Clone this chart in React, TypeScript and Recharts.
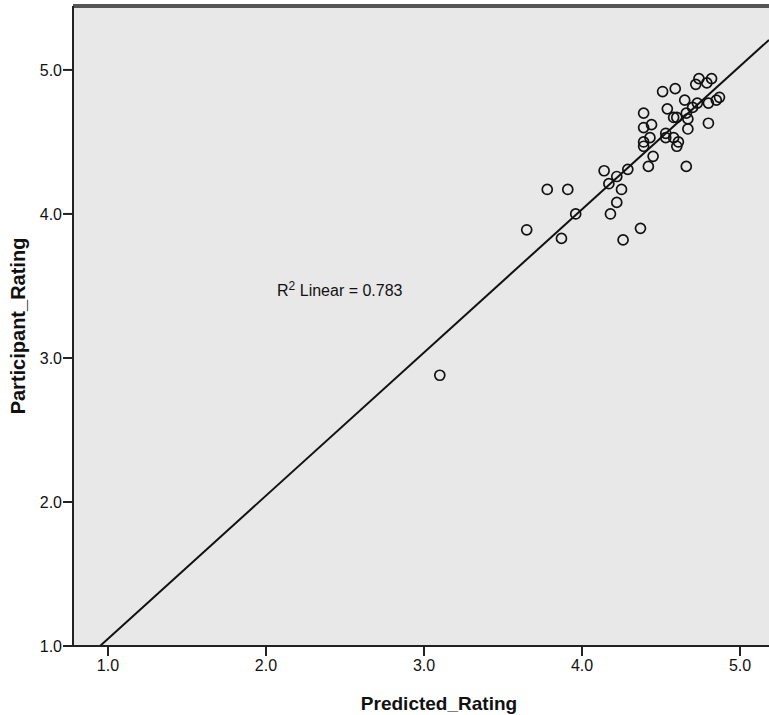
import React from "react";
import {
  ScatterChart,
  Scatter,
  XAxis,
  YAxis,
  CartesianGrid,
  ReferenceLine,
  ReferenceDot,
} from "recharts";

const predictedRating = [
  3.1, 3.65, 3.78, 3.87, 3.91, 3.96, 4.14, 4.17, 4.18, 4.22, 4.22, 4.25, 4.26,
  4.29, 4.37, 4.42, 4.45, 4.66, 4.39, 4.39, 4.44, 4.43, 4.39, 4.39, 4.51, 4.59,
  4.74, 4.82, 4.72, 4.79, 4.65, 4.73, 4.7, 4.8, 4.85, 4.87, 4.54, 4.58, 4.6,
  4.66, 4.67, 4.67, 4.8, 4.53, 4.58, 4.53, 4.61, 4.6,
];
const participantRating = [
  2.88, 3.89, 4.17, 3.83, 4.17, 4.0, 4.3, 4.21, 4.0, 4.26, 4.08, 4.17, 3.82,
  4.31, 3.9, 4.33, 4.4, 4.33, 4.7, 4.6, 4.62, 4.53, 4.5, 4.47, 4.85, 4.87, 4.94,
  4.94, 4.9, 4.91, 4.79, 4.77, 4.74, 4.77, 4.79, 4.81, 4.73, 4.67, 4.67, 4.7,
  4.66, 4.59, 4.63, 4.56, 4.53, 4.53, 4.5, 4.47,
];
const xTicks = [1, 2, 3, 4, 5];
const yTicks = [1, 2, 3, 4, 5];
const xDomain: [number, number] = [0.7785, 5.1835];
const yDomain: [number, number] = [1, 5.444];
const fitSlope = 0.994;
const fitIntercept = 0.056;
const rSquared = "0.783";
const rLabelPos = { x: 2.07, y: 3.43 };

const points = predictedRating.map((x, i) => ({ x, y: participantRating[i] }));
const fitStartX = (yDomain[0] - fitIntercept) / fitSlope;
const fitEndX = xDomain[1];
const fitSegment = [
  { x: fitStartX, y: fitSlope * fitStartX + fitIntercept },
  { x: fitEndX, y: fitSlope * fitEndX + fitIntercept },
];

const FONT = "'Liberation Sans', Arial, sans-serif";

const Ring = (props: any) => {
  const { cx, cy } = props;
  if (cx == null || cy == null) return null;
  return <circle cx={cx} cy={cy} r={5} fill="none" stroke="#111" strokeWidth={1.7} />;
};

const RLabel = (props: any) => {
  const { cx, cy } = props;
  return (
    <text x={cx} y={cy} fontFamily={FONT} fontSize={16} fill="#111">
      R
      <tspan fontSize={12} dy={-6}>2</tspan>
      <tspan dy={6}> Linear = {rSquared}</tspan>
    </text>
  );
};

const YTitle = (props: any) => {
  const vb = props.viewBox || {};
  const cy = vb.y + vb.height / 2;
  return (
    <text
      x={18}
      y={cy}
      transform={`rotate(-90, 18, ${cy})`}
      textAnchor="middle"
      dominantBaseline="central"
      fontFamily={FONT}
      fontWeight="bold"
      fontSize={20}
      fill="#111"
    >
      Participant_Rating
    </text>
  );
};

const XTitle = (props: any) => {
  const vb = props.viewBox || {};
  const cx = vb.x + vb.width / 2 + 18;
  return (
    <text
      x={cx}
      y={710}
      textAnchor="middle"
      fontFamily={FONT}
      fontWeight="bold"
      fontSize={19}
      fill="#111"
    >
      Predicted_Rating
    </text>
  );
};

export default function App() {
  return (
    <div style={{ position: "absolute", left: 0, top: 0, background: "#fff" }}>
      <ScatterChart
        width={769}
        height={715}
        margin={{ top: 6, right: 0, bottom: 0, left: 0 }}
      >
        <CartesianGrid horizontal={false} vertical={false} fill="#e8e8e8" />
        <XAxis
          type="number"
          dataKey="x"
          domain={xDomain}
          ticks={xTicks}
          allowDataOverflow
          height={69}
          tickSize={10}
          tickMargin={4}
          tickFormatter={(v: number) => v.toFixed(1)}
          tick={{ fontSize: 16, fill: "#111", fontFamily: FONT }}
          axisLine={{ stroke: "#222", strokeWidth: 2 }}
          tickLine={{ stroke: "#222", strokeWidth: 2 }}
          label={<XTitle />}
        />
        <YAxis
          type="number"
          dataKey="y"
          domain={yDomain}
          ticks={yTicks}
          allowDataOverflow
          width={73}
          tickSize={10}
          tickMargin={1}
          tickFormatter={(v: number) => v.toFixed(1)}
          tick={{ fontSize: 16, fill: "#111", fontFamily: FONT }}
          axisLine={{ stroke: "#222", strokeWidth: 2 }}
          tickLine={{ stroke: "#222", strokeWidth: 2 }}
          label={<YTitle />}
        />
        <ReferenceLine y={yDomain[1]} stroke="#555" strokeWidth={4} />
        <ReferenceLine
          segment={fitSegment}
          stroke="#111"
          strokeWidth={2}
          ifOverflow="hidden"
        />
        <ReferenceDot
          x={rLabelPos.x}
          y={rLabelPos.y}
          r={0}
          shape={<RLabel />}
        />
        <Scatter data={points} shape={<Ring />} isAnimationActive={false} />
      </ScatterChart>
    </div>
  );
}
